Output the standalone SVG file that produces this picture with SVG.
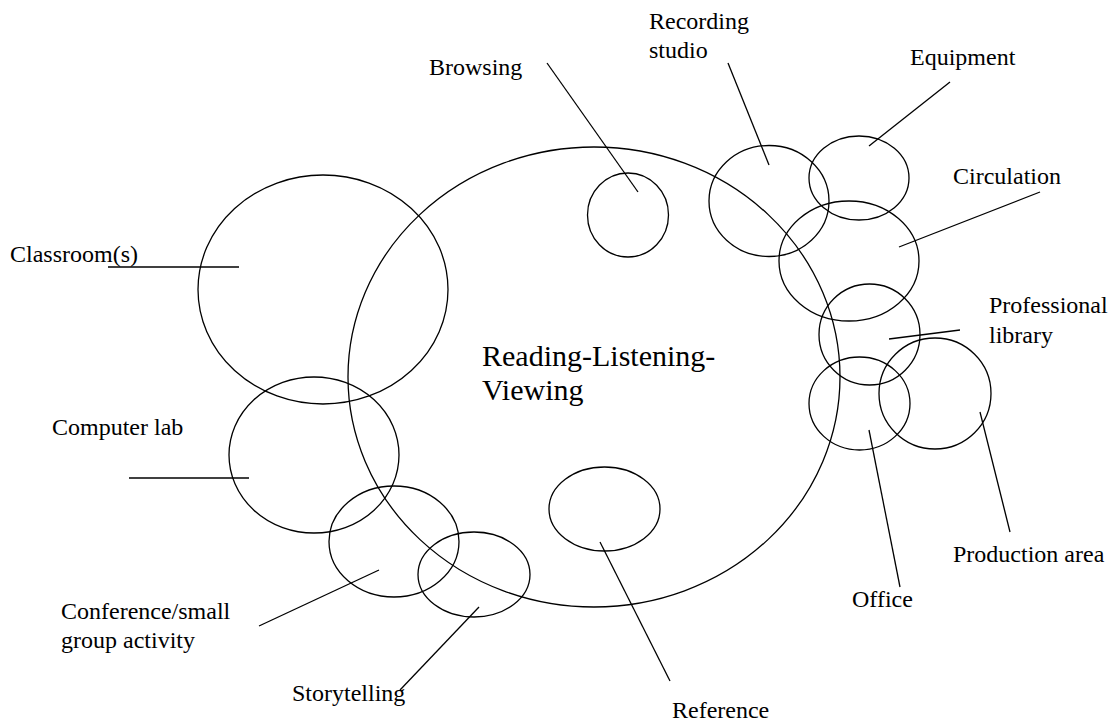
<svg xmlns="http://www.w3.org/2000/svg" width="1114" height="724" viewBox="0 0 1114 724" font-family="'Liberation Serif', 'DejaVu Serif', serif">
<style>
.a{fill:none;stroke:#000;stroke-width:1.3}
.c{stroke:#000;stroke-width:1.3;fill:none}
text{font-family:'Liberation Serif','DejaVu Serif',serif;font-size:24px;fill:#000}
.big{font-size:30px}
</style>
<rect width="1114" height="724" fill="#fff"/>
<g id="main"><ellipse class="a" cx="594" cy="377" rx="246" ry="230"/><text class="big" x="482" y="366">Reading-Listening-</text><text class="big" x="482" y="400">Viewing</text></g>
<g id="browsing"><ellipse class="a" cx="628" cy="215" rx="40.5" ry="42"/><text x="429" y="75">Browsing</text></g>
<g id="recording"><ellipse class="a" cx="769" cy="201" rx="60" ry="55.5"/><text x="649" y="29">Recording</text><text x="649" y="58">studio</text></g>
<g id="equipment"><ellipse class="a" cx="859" cy="178" rx="50" ry="42"/><text x="910" y="65">Equipment</text></g>
<g id="circulation"><ellipse class="a" cx="849" cy="261" rx="70" ry="60"/><text x="953" y="184">Circulation</text></g>
<g id="professional"><ellipse class="a" cx="869.5" cy="334.5" rx="50.5" ry="50.5"/><text x="989" y="313">Professional</text><text x="989" y="343">library</text></g>
<g id="office"><ellipse class="a" cx="859.5" cy="403.5" rx="50.5" ry="46.5"/><text x="852" y="607">Office</text></g>
<g id="production"><ellipse class="a" cx="935" cy="393.5" rx="56" ry="55.5"/><text x="953" y="562">Production area</text></g>
<g id="classroom"><ellipse class="a" cx="323" cy="289.5" rx="125" ry="114.5"/><text x="10" y="262">Classroom(s)</text></g>
<g id="computer"><ellipse class="a" cx="314" cy="455" rx="85" ry="78"/><text x="52" y="435">Computer lab</text></g>
<g id="conference"><ellipse class="a" cx="394" cy="541.5" rx="65" ry="55.5"/><text x="61" y="619">Conference/small</text><text x="61" y="648">group activity</text></g>
<g id="storytelling"><ellipse class="a" cx="474" cy="574.5" rx="56" ry="42.5"/><text x="292" y="701">Storytelling</text></g>
<g id="reference"><ellipse class="a" cx="604.5" cy="509" rx="55.5" ry="42"/><text x="672" y="718">Reference</text></g>
<g id="connectors">
<line class="c" x1="547" y1="63" x2="638" y2="192"/>
<line class="c" x1="728" y1="63" x2="769" y2="165"/>
<line class="c" x1="950" y1="82" x2="869" y2="146"/>
<line class="c" x1="1040" y1="192" x2="899" y2="247"/>
<line class="c" x1="960" y1="330" x2="889" y2="339"/>
<line class="c" x1="900" y1="587" x2="869" y2="430"/>
<line class="c" x1="1010" y1="532" x2="980" y2="412"/>
<line class="c" x1="108" y1="267" x2="239" y2="267"/>
<line class="c" x1="129" y1="478" x2="249" y2="478"/>
<line class="c" x1="259" y1="626" x2="379" y2="570"/>
<line class="c" x1="400" y1="690" x2="479" y2="607"/>
<line class="c" x1="670" y1="681" x2="600" y2="542"/>
</g>
</svg>
